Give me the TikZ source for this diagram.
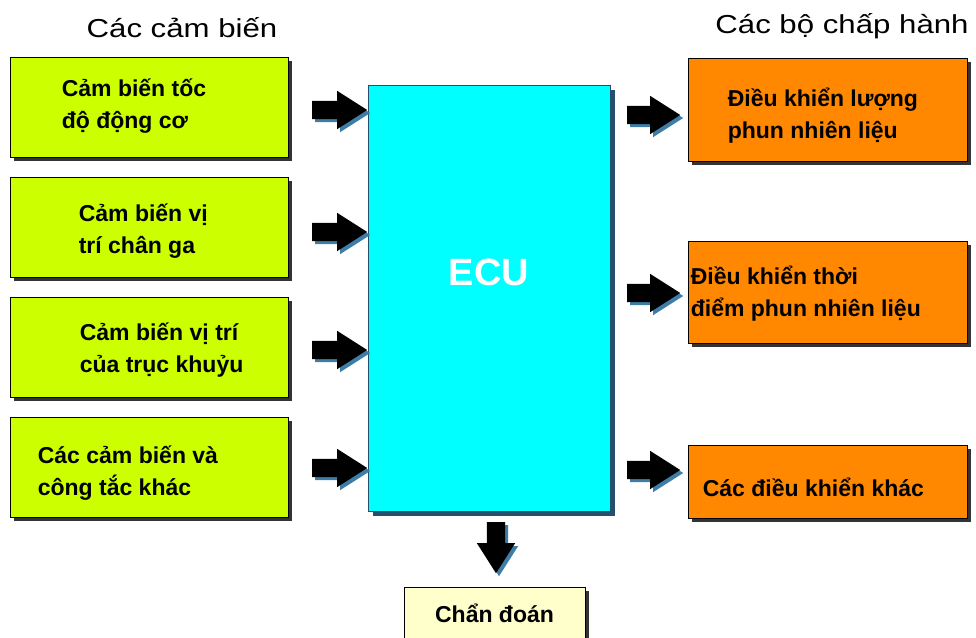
\documentclass[tikz,border=0pt]{standalone}
\usepackage{fontspec}
\setmainfont{Liberation Sans}
\newfontfamily\titlefont[FakeStretch=1.2]{Liberation Sans}
\usepackage{tikz}
\usetikzlibrary{positioning}
\usetikzlibrary{shapes.arrows}
\usetikzlibrary{shadows}
\definecolor{lime}{HTML}{CCFF00}
\definecolor{orng}{HTML}{FF8800}
\definecolor{cyanb}{HTML}{00FFFF}
\definecolor{paleyel}{HTML}{FFFFCC}
\definecolor{ecushadow}{HTML}{24506E}
\definecolor{arrshadow}{HTML}{3E7DA8}
\begin{document}
\begin{tikzpicture}[x=1pt,y=1pt,
	box/.style={draw=black,line width=0.8pt,inner sep=0pt,
		drop shadow={shadow xshift=4pt,shadow yshift=-4pt,fill=black!80,opacity=1}},
	sensor/.style={box,fill=lime,minimum width=278pt,minimum height=100pt},
	actor/.style={box,fill=orng,minimum width=279pt},
	txt/.style={inner sep=0pt,anchor=west,align=left,font=\bfseries\fontsize{23}{32}\selectfont},
	blk/.style={single arrow,fill=black,anchor=tail,inner xsep=0pt,inner ysep=9pt,minimum height=55pt,
		single arrow head extend=10pt,single arrow tip angle=65,
		drop shadow={shadow xshift=3pt,shadow yshift=-3pt,fill=arrshadow,opacity=1}},
	ttl/.style={anchor=base,inner sep=0pt,font=\titlefont\fontsize{26}{30}\selectfont}]
\useasboundingbox (0,0) rectangle (976,637);

% titles
\node[ttl] (tin) at (182,599) {Các cảm biến};
\node[ttl] (tout) at (842,603) {Các bộ chấp hành};

% sensors
\node[sensor] (s1) at (149,530) {};
\node[sensor] (s2) at (149,410) {};
\node[sensor] (s3) at (149,290) {};
\node[sensor] (s4) at (149,170) {};
\node[txt] (t1) at ([xshift=52pt,yshift=1pt]s1.west) {Cảm biến tốc\\độ động cơ};
\node[txt] (t2) at ([xshift=69pt,yshift=-4pt]s2.west) {Cảm biến vị\\trí chân ga};
\node[txt] (t3) at ([xshift=70pt,yshift=-3pt]s3.west) {Cảm biến vị trí\\của trục khuỷu};
\node[txt] (t4) at ([xshift=28pt,yshift=-6pt]s4.west) {Các cảm biến và\\công tắc khác};

% ECU
\node[draw=ecushadow,line width=0.8pt,fill=cyanb,minimum width=242pt,minimum height=426pt,
	drop shadow={shadow xshift=5pt,shadow yshift=-5pt,fill=ecushadow,opacity=1}] (ecu) at (489,339) {};
\node[text=white,font=\bfseries\fontsize{38}{40}\selectfont,inner sep=0pt] (ecut) at (489,365) {ECU};

% actuators
\node[actor,minimum height=103pt] (a1) at (827.5,527.5) {};
\node[actor,minimum height=102pt] (a2) at (827.5,345) {};
\node[actor,minimum height=73pt] (a3) at (827.5,155.5) {};
\node[txt] (u1) at ([xshift=40pt,yshift=-6pt]a1.west) {Điều khiển lượng\\phun nhiên liệu};
\node[txt] (u2) at ([xshift=3pt,yshift=-2pt]a2.west) {Điều khiển thời\\điểm phun nhiên liệu};
\node[txt] (u3) at ([xshift=15pt,yshift=-6pt]a3.west) {Các điều khiển khác};

% diagnosis
\node[box,fill=paleyel,minimum width=181pt,minimum height=53pt] (diag) at (494.5,23.5) {};
\node[inner sep=0pt,font=\bfseries\fontsize{23}{28}\selectfont] (dt) at (diag.center) {Chẩn đoán};

% block arrows
\node[blk] (in1) at (312,527) {};
\node[blk] (in2) at (312,405) {};
\node[blk] (in3) at (312,287) {};
\node[blk] (in4) at (312,169) {};
\node[blk,minimum height=53pt] (out1) at (627,522) {};
\node[blk,minimum height=53pt] (out2) at (627,344) {};
\node[blk,minimum height=53pt] (out3) at (627,167) {};
\node[blk,shape border rotate=270,inner xsep=9pt,inner ysep=0pt,minimum height=51pt] (down) at (496,115) {};
\end{tikzpicture}
\end{document}
